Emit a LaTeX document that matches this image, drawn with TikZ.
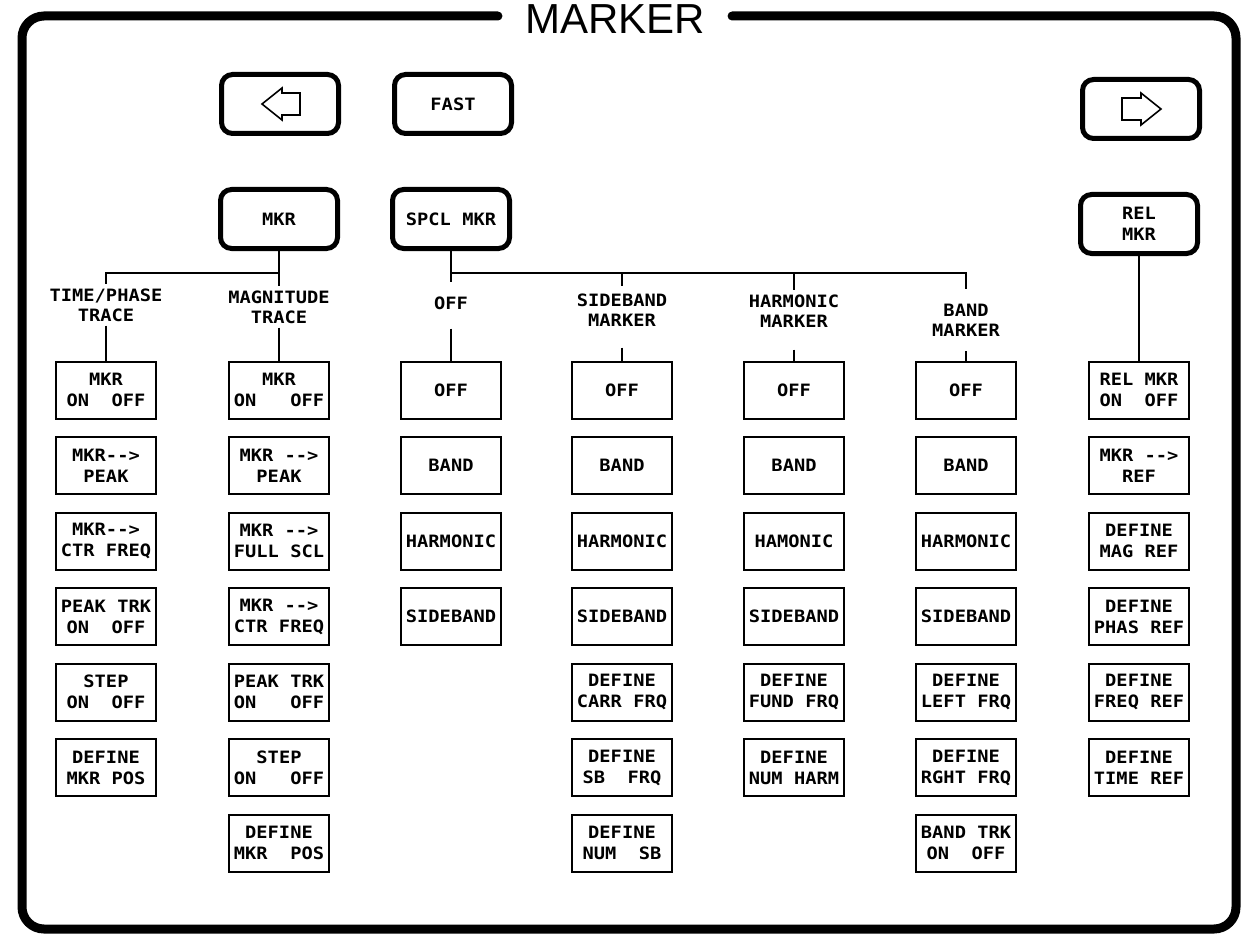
\documentclass[tikz,border=0pt]{standalone}
\usepackage{fontspec}
\newfontfamily\ploter{DejaVu Sans Mono}[FakeStretch=1.1]
\newfontfamily\naslovfont{Liberation Sans}
\usetikzlibrary{positioning}
\tikzset{
  taster/.style   = {rectangle, rounded corners=11pt, draw, line width=5pt,
                     minimum width=117pt, minimum height=59pt, align=center,
                     font=\ploter\bfseries\fontsize{17}{21}\selectfont},
  polje/.style    = {rectangle, draw, line width=2pt, minimum width=100pt,
                     minimum height=57pt, inner sep=1pt, align=center,
                     font=\ploter\bfseries\fontsize{17}{21}\selectfont},
  natpis/.style   = {align=center, inner sep=4pt,
                     font=\ploter\bfseries\fontsize{17}{20}\selectfont},
  veza/.style     = {line width=2pt},
  strelica/.style = {line width=1.6pt, line join=miter},
  okvir/.style    = {line width=9pt, rounded corners=22pt, line cap=round},
}

\begin{document}
\begin{tikzpicture}[x=1pt, y=-1pt, node distance=16.5pt]
  \useasboundingbox (0,0) rectangle (1242,936);

  % naslov i okvir
  \node[font=\naslovfont\fontsize{42}{42}\selectfont, inner xsep=27pt,
        inner ysep=0pt] (naslov) at (615,19) {MARKER};
  \draw[okvir] (naslov.west |- 0,16) -- (22,16) -- (22,929) -- (1236,929)
               -- (1236,16) -- (naslov.east |- 0,16);

  % tasteri
  \node[taster] (levo)  at (280,104)  {};
  \node[taster] (brzo)  at (453,104)  {FAST};
  \node[taster] (desno) at (1141,109) {};
  \node[taster] (mkr)   at (279,219)  {MKR};
  \node[taster] (spcl)  at (451,219)  {SPCL MKR};
  \node[taster] (rel)   at (1139,224) {REL\\MKR};

  \draw[strelica] ([shift={(-18,0)}]levo.center) -- ++(20,-16) -- ++(0,5)
        -- ++(18,0) -- ++(0,22) -- ++(-18,0) -- ++(0,5) -- cycle;
  \draw[strelica] ([shift={(20,0)}]desno.center) -- ++(-20,-16) -- ++(0,5)
        -- ++(-19,0) -- ++(0,22) -- ++(19,0) -- ++(0,5) -- cycle;

  % natpisi grana
  \node[natpis] (tp)   at (106,305) {TIME/PHASE\\TRACE};
  \node[natpis] (mag)  at (279,307) {MAGNITUDE\\TRACE};
  \node[natpis] (off)  at (451,303) {OFF};
  \node[natpis] (sb)   at (622,310) {SIDEBAND\\MARKER};
  \node[natpis] (harm) at (794,311) {HARMONIC\\MARKER};
  \node[natpis] (band) at (966,320) {BAND\\MARKER};

  % TIME/PHASE TRACE
  \node[polje] (tp1) at (106,390)  {MKR\\ON~~OFF};
  \node[polje, below=of tp1] (tp2) {MKR-{}->\\PEAK};
  \node[polje, below=of tp2] (tp3) {MKR-{}->\\CTR FREQ};
  \node[polje, below=of tp3] (tp4) {PEAK TRK\\ON~~OFF};
  \node[polje, below=of tp4] (tp5) {STEP\\ON~~OFF};
  \node[polje, below=of tp5] (tp6) {DEFINE\\MKR POS};

  % MAGNITUDE TRACE
  \node[polje] (mag1) at (279,390)   {MKR\\ON~~~OFF};
  \node[polje, below=of mag1] (mag2) {MKR -{}->\\PEAK};
  \node[polje, below=of mag2] (mag3) {MKR -{}->\\FULL SCL};
  \node[polje, below=of mag3] (mag4) {MKR -{}->\\CTR FREQ};
  \node[polje, below=of mag4] (mag5) {PEAK TRK\\ON~~~OFF};
  \node[polje, below=of mag5] (mag6) {STEP\\ON~~~OFF};
  \node[polje, below=of mag6] (mag7) {DEFINE\\MKR~~POS};

  % OFF
  \node[polje] (off1) at (451,390)   {OFF};
  \node[polje, below=of off1] (off2) {BAND};
  \node[polje, below=of off2] (off3) {HARMONIC};
  \node[polje, below=of off3] (off4) {SIDEBAND};

  % SIDEBAND MARKER
  \node[polje] (sb1) at (622,390)  {OFF};
  \node[polje, below=of sb1] (sb2) {BAND};
  \node[polje, below=of sb2] (sb3) {HARMONIC};
  \node[polje, below=of sb3] (sb4) {SIDEBAND};
  \node[polje, below=of sb4] (sb5) {DEFINE\\CARR FRQ};
  \node[polje, below=of sb5] (sb6) {DEFINE\\SB~~FRQ};
  \node[polje, below=of sb6] (sb7) {DEFINE\\NUM~~SB};

  % HARMONIC MARKER
  \node[polje] (harm1) at (794,390)    {OFF};
  \node[polje, below=of harm1] (harm2) {BAND};
  \node[polje, below=of harm2] (harm3) {HAMONIC};
  \node[polje, below=of harm3] (harm4) {SIDEBAND};
  \node[polje, below=of harm4] (harm5) {DEFINE\\FUND FRQ};
  \node[polje, below=of harm5] (harm6) {DEFINE\\NUM HARM};

  % BAND MARKER
  \node[polje] (band1) at (966,390)    {OFF};
  \node[polje, below=of band1] (band2) {BAND};
  \node[polje, below=of band2] (band3) {HARMONIC};
  \node[polje, below=of band3] (band4) {SIDEBAND};
  \node[polje, below=of band4] (band5) {DEFINE\\LEFT FRQ};
  \node[polje, below=of band5] (band6) {DEFINE\\RGHT FRQ};
  \node[polje, below=of band6] (band7) {BAND TRK\\ON~~OFF};

  % REL MKR
  \node[polje] (rel1) at (1139,390)  {REL MKR\\ON~~OFF};
  \node[polje, below=of rel1] (rel2) {MKR -{}->\\REF};
  \node[polje, below=of rel2] (rel3) {DEFINE\\MAG REF};
  \node[polje, below=of rel3] (rel4) {DEFINE\\PHAS REF};
  \node[polje, below=of rel4] (rel5) {DEFINE\\FREQ REF};
  \node[polje, below=of rel5] (rel6) {DEFINE\\TIME REF};

  % veze
  \coordinate (cvor1) at (279,273);
  \coordinate (cvor2) at (451,273);
  \draw[veza] (mkr) -- (mag);
  \draw[veza] (cvor1) -| (tp);
  \draw[veza, shorten >=10pt] (spcl) -- (off);
  \draw[veza, shorten >=11pt] (cvor2) -| (band);
  \draw[veza, shorten >=3pt] (cvor2 -| sb) -- (sb);
  \draw[veza] (cvor2 -| harm) -- (harm);
  \draw[veza] (rel) -- (rel1);

  \draw[veza] (tp) -- (tp1);
  \draw[veza] (mag) -- (mag1);
  \draw[veza, shorten <=15pt] (off) -- (off1);
  \draw[veza, shorten <=17pt] (sb) -- (sb1);
  \draw[veza, shorten <=18pt] (harm) -- (harm1);
  \draw[veza, shorten <=11pt] (band) -- (band1);
\end{tikzpicture}
\end{document}
